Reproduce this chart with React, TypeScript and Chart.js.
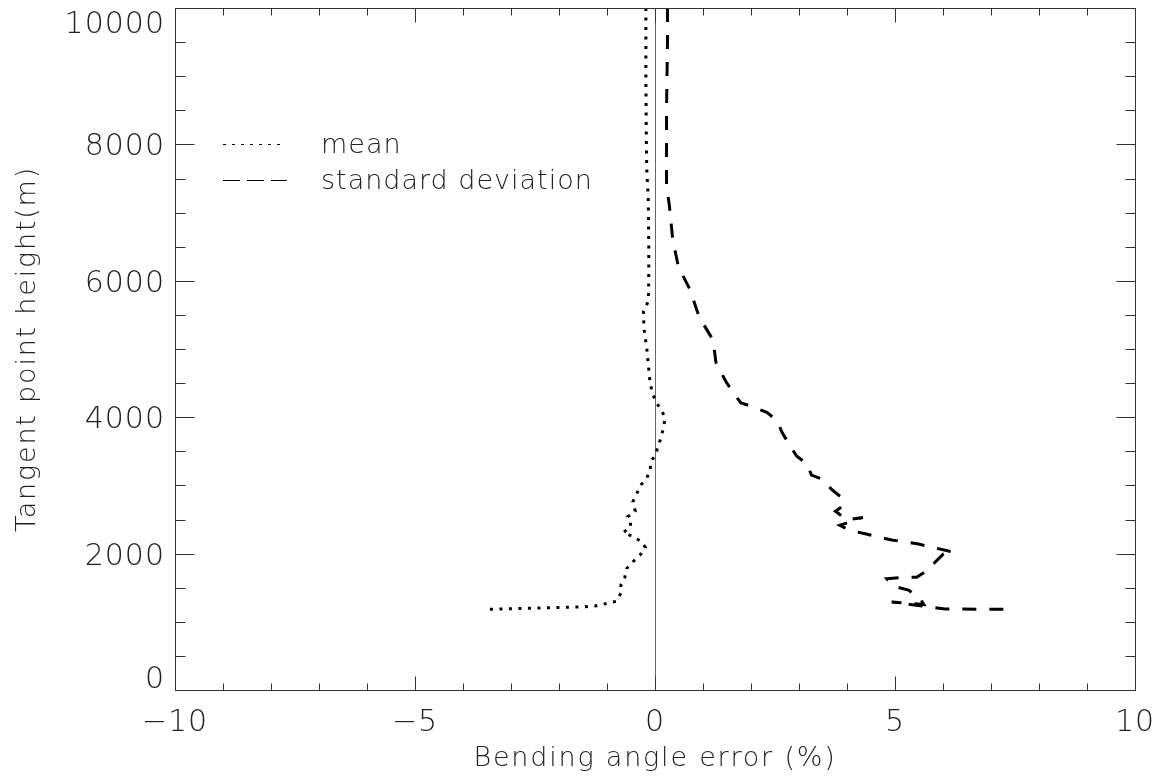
import React, { useEffect, useRef } from "react";
import { Chart, registerables } from "chart.js";

Chart.register(...registerables);

// ---- data (height in m, value in %) ----
const meanHeights = [
  10000, 9000, 8000, 7600, 7200, 6500, 6000, 5700, 5550, 5300, 5000, 4700, 4490,
  4350, 4220, 4110, 3990, 3860, 3710, 3580, 3450, 3340, 3220, 3110, 3010, 2880,
  2760, 2620, 2540, 2460, 2390, 2310, 2250, 2180, 2090, 1980, 1880, 1780, 1650,
  1540, 1420, 1300, 1270, 1232, 1220, 1200, 1182,
];
const meanValues = [
  -0.19, -0.19, -0.18, -0.17, -0.14, -0.13, -0.13, -0.14, -0.24, -0.23, -0.17,
  -0.13, -0.1, -0.05, 0.02, 0.13, 0.21, 0.18, 0.13, 0.07, 0.01, -0.09, -0.1,
  -0.17, -0.29, -0.38, -0.46, -0.41, -0.57, -0.51, -0.51, -0.66, -0.46, -0.29,
  -0.2, -0.31, -0.46, -0.59, -0.63, -0.71, -0.71, -0.81, -1.0, -1.25, -1.46,
  -2.5, -3.45,
];
const stdHeights = [
  10000, 9500, 9000, 8500, 8000, 7400, 7100, 6600, 6200, 5870, 5470, 5130, 4800,
  4520, 4360, 4210, 4150, 4070, 3960, 3760, 3620, 3430, 3320, 3150, 3090, 2940,
  2820, 2700, 2620, 2495, 2530, 2415, 2340, 2290, 2250, 2200, 2175, 2140, 2100,
  2020, 1995, 1850, 1745, 1652, 1652, 1630, 1520, 1466, 1344, 1255, 1290, 1218,
  1188, 1182,
];
const stdValues = [
  0.26, 0.26, 0.25, 0.24, 0.24, 0.24, 0.3, 0.37, 0.49, 0.73, 0.92, 1.21, 1.27,
  1.48, 1.63, 1.79, 2.05, 2.33, 2.53, 2.66, 2.78, 2.95, 3.16, 3.26, 3.49, 3.68,
  3.89, 3.92, 3.76, 4.0, 4.33, 3.85, 4.06, 4.38, 4.62, 4.93, 5.17, 5.49, 5.73,
  6.22, 6.01, 5.8, 5.65, 5.45, 5.21, 4.83, 4.97, 5.28, 5.52, 5.6, 4.93, 5.7,
  6.04, 7.46,
];

const xTickValues = [-10, -5, 0, 5, 10];
const yTickValues = [0, 2000, 4000, 6000, 8000, 10000];
const xMinorStep = 1;
const yMinorStep = 500;
const seriesLabels = ["mean", "standard deviation"];
const xTitle = "Bending angle error (%)";
const yTitle = "Tangent point height(m)";

const FONT = "'DejaVu Sans', sans-serif";
const TEXT = "#222";
const AXIS = "#333";

const fmt = (v: number) => (v < 0 ? "\u2212" + Math.abs(v) : String(v));

const framePlugin = {
  id: "idlFrame",
  beforeDraw(chart: any) {
    chart.ctx.letterSpacing = "1.8px";
  },
  beforeDatasetsDraw(chart: any) {
    const { ctx, chartArea: a, scales } = chart;
    const x0 = scales.x.getPixelForValue(0);
    ctx.save();
    ctx.strokeStyle = "#666";
    ctx.lineWidth = 1;
    ctx.beginPath();
    ctx.moveTo(Math.round(x0) + 0.5, a.top);
    ctx.lineTo(Math.round(x0) + 0.5, a.bottom);
    ctx.stroke();
    ctx.restore();
  },
  afterDraw(chart: any) {
    const { ctx, chartArea: a, scales } = chart;
    const xs = scales.x;
    const ys = scales.y;
    ctx.save();
    ctx.strokeStyle = AXIS;
    ctx.lineWidth = 1;
    const L = Math.round(a.left) + 0.5;
    const R = Math.round(a.right) + 0.5;
    const T = Math.round(a.top) + 0.5;
    const B = Math.round(a.bottom) + 0.5;
    ctx.strokeRect(L, T, R - L, B - T);
    ctx.beginPath();
    // x ticks (bottom and top, pointing inward)
    for (let v = xs.min; v <= xs.max + 1e-9; v += xMinorStep) {
      const major = xTickValues.includes(v);
      const len = major ? 14 : 7;
      const px = Math.round(xs.getPixelForValue(v)) + 0.5;
      ctx.moveTo(px, B);
      ctx.lineTo(px, B - len);
      ctx.moveTo(px, T);
      ctx.lineTo(px, T + len);
    }
    // y ticks (left and right, pointing inward)
    for (let v = ys.min; v <= ys.max + 1e-9; v += yMinorStep) {
      const major = yTickValues.includes(v);
      const len = major ? 19 : 10;
      const py = Math.round(ys.getPixelForValue(v)) + 0.5;
      ctx.moveTo(L, py);
      ctx.lineTo(L + len, py);
      ctx.moveTo(R, py);
      ctx.lineTo(R - len, py);
    }
    ctx.stroke();

    // tick labels
    ctx.fillStyle = TEXT;
    ctx.font = `200 30px ${FONT}`;
    ctx.letterSpacing = "1px";
    ctx.textBaseline = "alphabetic";
    ctx.textAlign = "center";
    xTickValues.forEach((v) => {
      ctx.fillText(fmt(v), xs.getPixelForValue(v), a.bottom + 41);
    });
    ctx.textAlign = "right";
    yTickValues.forEach((v) => {
      let y = ys.getPixelForValue(v) + 11;
      y = Math.max(a.top + 25, Math.min(a.bottom - 2, y));
      ctx.fillText(fmt(v), a.left - 10, y);
    });

    // legend
    const ds = chart.data.datasets;
    const rows = [
      { y: 144, dash: [3, 6], lx: 283 },
      { y: 180, dash: [17, 7], lx: 287 },
    ];
    rows.forEach((r, i) => {
      ctx.strokeStyle = ds[i].borderColor;
      ctx.lineWidth = 1;
      ctx.setLineDash(r.dash);
      ctx.beginPath();
      ctx.moveTo(223, r.y + 0.5);
      ctx.lineTo(r.lx, r.y + 0.5);
      ctx.stroke();
      ctx.setLineDash([]);
      ctx.font = `200 27px ${FONT}`;
      ctx.textAlign = "left";
      ctx.fillStyle = TEXT;
      ctx.fillText(ds[i].label, 321, r.y + 9);
    });
    ctx.restore();
  },
};

export default function App() {
  const ref = useRef<HTMLCanvasElement | null>(null);
  useEffect(() => {
    document.body.style.margin = "0";
    const canvas = ref.current!;
    const chart = new Chart(canvas, {
      type: "scatter",
      data: {
        datasets: [
          {
            label: seriesLabels[0],
            data: meanHeights.map((h, i) => ({ x: meanValues[i], y: h })),
            showLine: true,
            borderColor: "#000",
            borderWidth: 3,
            borderDash: [3, 6.5],
            pointRadius: 0,
            tension: 0,
          },
          {
            label: seriesLabels[1],
            data: stdHeights.map((h, i) => ({ x: stdValues[i], y: h })),
            showLine: true,
            borderColor: "#000",
            borderWidth: 3,
            borderDash: [14, 13],
            pointRadius: 0,
            tension: 0,
          },
        ],
      },
      options: {
        responsive: false,
        devicePixelRatio: 1,
        animation: false,
        layout: { padding: { top: 8, right: 20, left: 0, bottom: 0 } },
        plugins: { legend: { display: false }, tooltip: { enabled: false } },
        scales: {
          x: {
            type: "linear",
            min: -10,
            max: 10,
            grid: { display: false },
            border: { display: false },
            ticks: { display: false, stepSize: 5 },
            title: {
              display: true,
              text: xTitle,
              color: TEXT,
              font: { family: FONT, size: 27, weight: "200" },
              padding: { top: 0, bottom: 3 },
            },
            afterFit(s: any) {
              s.height = 88;
              s.paddingLeft = 0;
              s.paddingRight = 0;
            },
          },
          y: {
            type: "linear",
            min: 0,
            max: 10000,
            grid: { display: false },
            border: { display: false },
            ticks: { display: false, stepSize: 2000 },
            title: {
              display: true,
              text: yTitle,
              color: TEXT,
              font: { family: FONT, size: 27, weight: "200" },
              padding: { top: 12, bottom: 0 },
            },
            afterFit(s: any) {
              s.width = 175;
              s.paddingTop = 0;
              s.paddingBottom = 0;
            },
          },
        },
      },
      plugins: [framePlugin],
    });
    return () => chart.destroy();
  }, []);
  return (
    <canvas
      ref={ref}
      width={1155}
      height={778}
      style={{ display: "block", width: 1155, height: 778 }}
    />
  );
}
